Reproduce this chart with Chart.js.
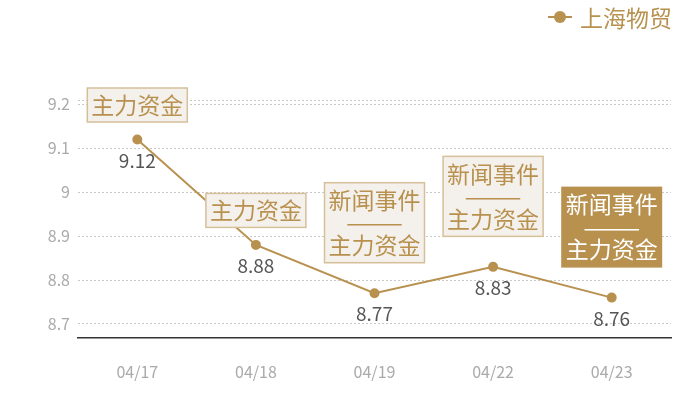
<!DOCTYPE html>
<html lang="zh">
<head>
  <meta charset="UTF-8" />
  <title>上海物贸</title>
  <script src="https://cdn.jsdelivr.net/npm/chart.js"></script>
  <style>
    html, body { margin: 0; padding: 0; background: #fff; }
    .wrap { position: relative; width: 700px; height: 400px; }
    .legend {
      position: absolute; top: 0px; right: 28px;
      display: flex; align-items: center;
      font-family: "Noto Sans CJK SC", sans-serif; font-size: 23px; color: #b8914f;
    }
    .legend .mark { position: relative; width: 24px; height: 2px; background: #b8914f; margin-right: 8px; }
    .legend .mark::after {
      content: ""; position: absolute; left: 6px; top: -5px;
      width: 12px; height: 12px; border-radius: 50%; background: #b8914f;
    }
  </style>
</head>
<body>
  <div class="wrap">
    <div class="legend"><span class="mark"></span><span>上海物贸</span></div>
    <canvas id="chart" width="700" height="400"></canvas>
  </div>

  <script>
    const dates = ["04/17", "04/18", "04/19", "04/22", "04/23"];
    const prices = [9.12, 8.88, 8.77, 8.83, 8.76];
    const notes = ["主力资金", "主力资金", "新闻事件\n———\n主力资金", "新闻事件\n———\n主力资金", "新闻事件\n———\n主力资金"];
    const highlighted = [false, false, false, false, true];
    const yTicks = [8.7, 8.8, 8.9, 9, 9.1, 9.2, 9.21];

    const gold = "#b8914f";
    const font = '"Noto Sans CJK SC", sans-serif';

    // value labels under points + event boxes above them
    const notesPlugin = {
      id: "notes",
      afterDatasetsDraw(chart) {
        const ctx = chart.ctx;
        const meta = chart.getDatasetMeta(0);
        ctx.save();
        ctx.textAlign = "center";
        ctx.textBaseline = "middle";
        meta.data.forEach((pt, i) => {
          ctx.font = "19px " + font;
          ctx.fillStyle = "#555";
          ctx.fillText(String(prices[i]), pt.x, pt.y + 21);

          const lines = notes[i].split("\n");
          const lh = 22.5;
          const w = 101;
          const h = lines.length === 1 ? 35 : 81;
          const bottom = pt.y - (lines.length === 1 ? 17 : 30);
          const top = bottom - h;
          const left = pt.x - w / 2;
          if (highlighted[i]) {
            ctx.fillStyle = gold;
            ctx.fillRect(left, top, w, h);
          } else {
            ctx.fillStyle = "#f4f1ec";
            ctx.fillRect(left, top, w, h);
            ctx.strokeStyle = "#d6c09a";
            ctx.lineWidth = 1.5;
            ctx.strokeRect(left + 0.5, top + 0.5, w - 1, h - 1);
          }
          ctx.fillStyle = highlighted[i] ? "#fff" : gold;
          ctx.font = "23px " + font;
          const mid = top + h / 2;
          lines.forEach((t, k) => {
            ctx.fillText(t, pt.x, mid + (k - (lines.length - 1) / 2) * lh);
          });
        });
        ctx.restore();
      }
    };

    new Chart(document.getElementById("chart"), {
      type: "line",
      data: {
        labels: dates,
        datasets: [{
          label: "上海物贸",
          data: prices,
          borderColor: gold,
          backgroundColor: gold,
          borderWidth: 2,
          pointRadius: 4,
          pointHoverRadius: 4,
          tension: 0
        }]
      },
      options: {
        responsive: false,
        animation: false,
        layout: { padding: { top: 100, right: 29, bottom: 19, left: 0 } },
        plugins: { legend: { display: false }, tooltip: { enabled: false } },
        scales: {
          x: {
            offset: true,
            grid: { display: false },
            border: { color: "#333", width: 1.5 },
            afterFit: s => { s.height = 43; },
            ticks: { color: "#aaa", font: { family: font, size: 16 }, padding: 16 }
          },
          y: {
            min: 8.668,
            max: 9.21,
            afterBuildTicks: s => { s.ticks = yTicks.map(v => ({ value: v })); },
            afterFit: s => { s.width = 78; },
            border: { display: false, dash: [2, 2] },
            grid: { color: "#c8c8c8", drawTicks: false },
            ticks: {
              color: "#aaa",
              font: { family: font, size: 16 },
              padding: 8,
              callback: v => (v === 9.21 ? "" : String(v))
            }
          }
        }
      },
      plugins: [notesPlugin]
    });
  </script>
</body>
</html>
